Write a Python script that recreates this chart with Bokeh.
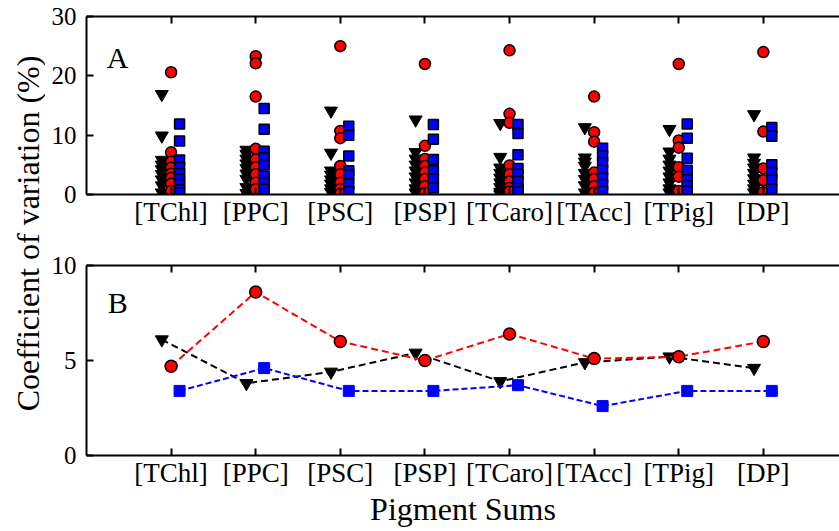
from bokeh.plotting import figure
from bokeh.layouts import row, column
from bokeh.models import Range1d, FixedTicker, LinearAxis, Label
from bokeh.embed import file_html
from bokeh.resources import INLINE

categories = ["[TChl]", "[PPC]", "[PSC]", "[PSP]", "[TCaro]", "[TAcc]", "[TPig]", "[DP]"]

# Panel A: coefficient of variation (%) of every sample, per pigment sum
tri_a = [
    [16.9, 9.9, 5.8, 5.0, 4.2, 3.4, 2.5, 1.5, 0.3],
    [7.5, 6.8, 6.0, 5.2, 4.4, 3.5, 2.6, 1.2, 0.2],
    [14.1, 7.0, 4.0, 3.3, 2.5, 1.8, 1.0, 0.4],
    [12.6, 7.1, 6.0, 5.0, 4.0, 3.0, 2.0, 1.0, 0.3],
    [12.0, 6.3, 4.5, 3.6, 2.8, 2.0, 1.2, 0.4, 0.0],
    [11.3, 6.2, 5.5, 4.8, 3.6, 2.6, 1.5, 0.3],
    [11.0, 7.2, 6.0, 5.0, 4.0, 3.0, 2.0, 1.0, 0.3],
    [13.5, 6.2, 5.3, 4.5, 3.6, 2.7, 1.8, 1.0, 0.3],
]
circ_a = [
    [20.6, 7.1, 5.5, 4.5, 3.5, 2.8, 1.8, 0.6],
    [23.3, 22.1, 16.5, 7.7, 5.9, 4.6, 3.4, 2.0, 0.9],
    [25.0, 10.7, 9.5, 4.8, 3.4, 2.0, 0.9, 0.1],
    [22.0, 8.2, 6.0, 4.8, 3.7, 2.6, 1.4, 0.3],
    [24.3, 13.6, 12.1, 4.9, 3.4, 2.2, 1.1, 0.5],
    [16.5, 10.5, 8.9, 3.7, 2.6, 1.4, 0.3],
    [22.0, 9.1, 7.9, 4.6, 3.0, 0.6],
    [24.0, 10.6, 4.4, 2.4, 0.4],
]
sq_a = [
    [11.9, 9.0, 5.8, 4.6, 3.5, 2.6, 1.7, 0.8, 0.3],
    [14.5, 11.0, 7.3, 6.2, 5.0, 3.1, 2.0, 0.9],
    [11.5, 10.0, 6.5, 4.0, 3.3, 1.8, 0.5],
    [11.8, 9.3, 5.9, 4.0, 2.6, 1.1],
    [11.8, 10.3, 6.7, 4.4, 3.4, 2.2, 1.0, 0.4],
    [7.8, 6.5, 5.4, 4.1, 2.8, 1.7, 0.6],
    [11.9, 9.5, 6.1, 4.1, 2.5, 1.4, 0.6],
    [11.3, 9.8, 5.0, 3.7, 2.4, 0.9],
]

# Panel B: one summary value per pigment sum
tri_b = [6.1, 3.8, 4.4, 5.4, 3.9, 4.9, 5.2, 4.6]
circ_b = [4.7, 8.6, 6.0, 5.0, 6.4, 5.1, 5.2, 6.0]
sq_b = [3.4, 4.6, 3.4, 3.4, 3.7, 2.6, 3.4, 3.4]

FONT = "Liberation Serif"
OFF_TRI, OFF_CIRC, OFF_SQ = -0.11, 0.0, 0.1
positions = list(range(1, len(categories) + 1))


def spread(groups, offset):
    xs, ys = [], []
    for i, vals in enumerate(groups):
        xs += [positions[i] + offset] * len(vals)
        ys += list(vals)
    return xs, ys


def style_axis(ax, ticks, size="25px", standoff=4, labels=True):
    ax.ticker = FixedTicker(ticks=ticks)
    ax.major_tick_in = 7
    ax.major_tick_out = 0
    ax.minor_tick_line_color = None
    ax.axis_line_width = 2
    ax.axis_line_color = "black"
    ax.major_tick_line_width = 2
    ax.major_tick_line_color = "black"
    ax.major_label_text_font = FONT
    if labels:
        ax.major_label_text_color = "black"
        ax.major_label_text_font_size = size
        ax.major_label_standoff = standoff
    else:
        # frame edge with inward ticks only
        ax.major_label_text_color = None
        ax.major_label_text_font_size = "1px"
        ax.major_label_standoff = 0


def panel(height, ymax, yticks, top, bottom):
    p = figure(width=794, height=height, x_range=Range1d(0, 8.9),
               y_range=Range1d(0, ymax), toolbar_location=None,
               output_backend="svg", min_border_left=41, min_border_right=0,
               min_border_top=top, min_border_bottom=bottom)
    p.grid.visible = False
    p.outline_line_color = None
    p.add_layout(LinearAxis(), "above")
    for ax in p.below:
        style_axis(ax, positions, size="27px", standoff=2)
        ax.major_label_overrides = {k: c for k, c in zip(positions, categories)}
    for ax in p.above:
        style_axis(ax, positions, labels=False)
    for ax in p.left:
        style_axis(ax, yticks, size="25px", standoff=10)
    return p


# ---- Panel A ----
pa = panel(245, 30, [0, 10, 20, 30], 16, 51)
x, y = spread(tri_a, OFF_TRI)
pa.scatter(x, y, marker="inverted_triangle", size=13, fill_color="black",
           line_color="black", line_width=1)
x, y = spread(circ_a, OFF_CIRC)
pa.scatter(x, y, marker="circle", size=11, fill_color="red",
           line_color="black", line_width=1.5)
x, y = spread(sq_a, OFF_SQ)
pa.scatter(x, y, marker="square", size=10, fill_color="blue",
           line_color="black", line_width=1.5)
pa.add_layout(Label(x=0.24, y=23.1, text="A", text_font=FONT, text_color="black",
                    text_font_size="30px", text_baseline="alphabetic"))

# ---- Panel B ----
pb = panel(286, 10, [0, 5, 10], 20, 76)
xlab = pb.below[0]
xlab.axis_label = "Pigment Sums"
xlab.axis_label_text_font = FONT
xlab.axis_label_text_font_size = "32px"
xlab.axis_label_text_font_style = "normal"
xlab.axis_label_text_color = "black"
xlab.axis_label_standoff = 0

xt = [c + OFF_TRI for c in positions]
xc = [c + OFF_CIRC for c in positions]
xs = [c + OFF_SQ for c in positions]
pb.line(xt, tri_b, line_color="black", line_width=2, line_dash="7 4")
pb.scatter(xt, tri_b, marker="inverted_triangle", size=13, fill_color="black",
           line_color="black")
pb.line(xc, circ_b, line_color="red", line_width=2, line_dash="7 4")
pb.scatter(xc, circ_b, marker="circle", size=12, fill_color="red",
           line_color="black", line_width=1.5)
pb.line(xs, sq_b, line_color="blue", line_width=2, line_dash="6 3")
pb.scatter(xs, sq_b, marker="square", size=11, fill_color="blue",
           line_color="blue")
pb.add_layout(Label(x=0.25, y=8.04, text="B", text_font=FONT, text_color="black",
                    text_font_size="30px", text_baseline="alphabetic"))

# ---- shared y-axis title ----
lab = figure(width=45, height=531, x_range=Range1d(0, 45), y_range=Range1d(0, 531),
             toolbar_location=None, output_backend="svg", min_border=0,
             x_axis_location=None, y_axis_location=None)
lab.grid.visible = False
lab.outline_line_color = None
lab.add_layout(Label(x=27, y=531 - 233, text="Coefficient of variation (%)",
                     angle=90, angle_units="deg", text_align="center",
                     text_baseline="middle", text_font=FONT,
                     text_font_size="32px", text_color="black"))

layout = row(lab, column(pa, pb, spacing=0), spacing=0)
open("out.html", "w").write(file_html(layout, INLINE))
